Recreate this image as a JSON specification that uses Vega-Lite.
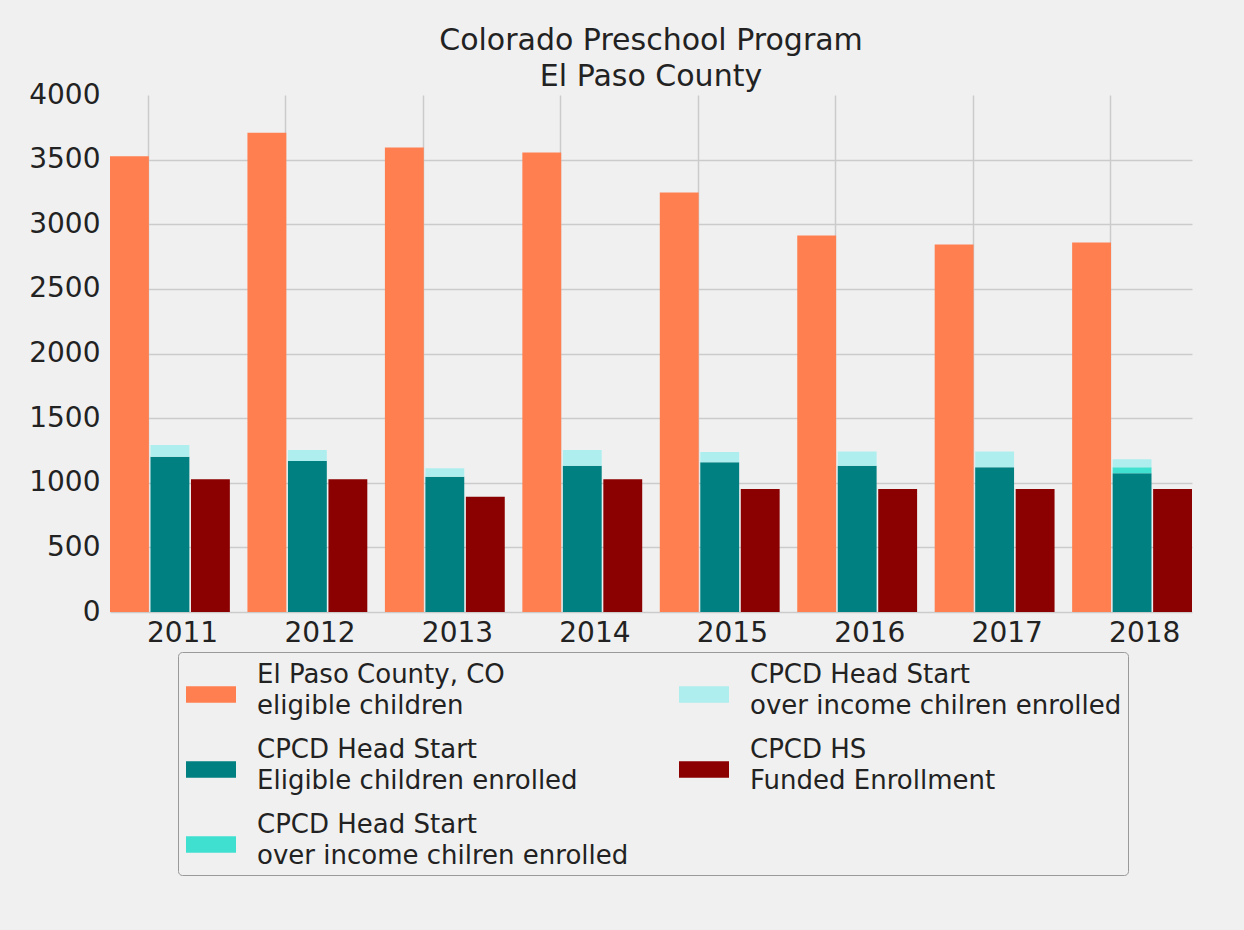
{
  "$schema": "https://vega.github.io/schema/vega-lite/v6.json",
  "autosize": {"type": "none"},
  "width": 1082,
  "height": 517,
  "padding": {"left": 110, "top": 95, "right": 52, "bottom": 318},
  "background": "#f0f0f0",
  "title": {
    "text": ["Colorado Preschool Program", "El Paso County"],
    "font": "DejaVu Sans",
    "fontSize": 30,
    "fontWeight": "normal",
    "color": "#222222",
    "lineHeight": 36,
    "anchor": "middle",
    "frame": "group",
    "baseline": "bottom",
    "offset": -41
  },
  "data": {
    "values": [
      {"year": "2011", "series": "county", "group": "1", "value": 3527},
      {"year": "2011", "series": "eligible", "group": "2", "value": 1202},
      {"year": "2011", "series": "over2", "group": "2", "value": 91},
      {"year": "2011", "series": "funded", "group": "3", "value": 1027},
      {"year": "2012", "series": "county", "group": "1", "value": 3708},
      {"year": "2012", "series": "eligible", "group": "2", "value": 1169},
      {"year": "2012", "series": "over2", "group": "2", "value": 85},
      {"year": "2012", "series": "funded", "group": "3", "value": 1027},
      {"year": "2013", "series": "county", "group": "1", "value": 3594},
      {"year": "2013", "series": "eligible", "group": "2", "value": 1047},
      {"year": "2013", "series": "over2", "group": "2", "value": 65},
      {"year": "2013", "series": "funded", "group": "3", "value": 892},
      {"year": "2014", "series": "county", "group": "1", "value": 3555},
      {"year": "2014", "series": "eligible", "group": "2", "value": 1132},
      {"year": "2014", "series": "over2", "group": "2", "value": 122},
      {"year": "2014", "series": "funded", "group": "3", "value": 1027},
      {"year": "2015", "series": "county", "group": "1", "value": 3246},
      {"year": "2015", "series": "eligible", "group": "2", "value": 1159},
      {"year": "2015", "series": "over2", "group": "2", "value": 79},
      {"year": "2015", "series": "funded", "group": "3", "value": 952},
      {"year": "2016", "series": "county", "group": "1", "value": 2912},
      {"year": "2016", "series": "eligible", "group": "2", "value": 1132},
      {"year": "2016", "series": "over2", "group": "2", "value": 109},
      {"year": "2016", "series": "funded", "group": "3", "value": 952},
      {"year": "2017", "series": "county", "group": "1", "value": 2843},
      {"year": "2017", "series": "eligible", "group": "2", "value": 1120},
      {"year": "2017", "series": "over2", "group": "2", "value": 121},
      {"year": "2017", "series": "funded", "group": "3", "value": 952},
      {"year": "2018", "series": "county", "group": "1", "value": 2858},
      {"year": "2018", "series": "eligible", "group": "2", "value": 1073},
      {"year": "2018", "series": "over1", "group": "2", "value": 47},
      {"year": "2018", "series": "over2", "group": "2", "value": 62},
      {"year": "2018", "series": "funded", "group": "3", "value": 952}
    ]
  },
  "encoding": {
    "x": {
      "field": "year",
      "type": "ordinal",
      "scale": {"paddingInner": 0.128, "paddingOuter": 0},
      "axis": {
        "title": null,
        "labelAngle": 0,
        "labelAlign": "left",
        "labelBaseline": "top",
        "labelOffset": -23,
        "labelPadding": 7,
        "bandPosition": 0.32,
        "grid": true,
        "ticks": false,
        "domain": false
      }
    },
    "xOffset": {
      "field": "group",
      "type": "nominal",
      "scale": {"paddingInner": 0.04, "paddingOuter": 0}
    },
    "y": {
      "field": "value",
      "type": "quantitative",
      "scale": {"domain": [0, 4000], "nice": false},
      "axis": {
        "title": null,
        "format": "d",
        "values": [0, 500, 1000, 1500, 2000, 2500, 3000, 3500, 4000],
        "grid": true,
        "gridColor": {"condition": {"test": "datum.value >= 4000", "value": "transparent"}, "value": "#cbcbcb"},
        "ticks": false,
        "domain": false,
        "labelPadding": 10
      }
    },
    "color": {
      "field": "series",
      "type": "nominal",
      "scale": {
        "domain": ["county", "eligible", "over1", "over2", "funded"],
        "range": ["#FF7F50", "#008080", "#40E0D0", "#AFEEEE", "#8B0000"]
      },
      "legend": {
        "title": null,
        "orient": "none",
        "legendX": 68,
        "legendY": 557,
        "columns": 2,
        "labelExpr": "datum.value == 'county' ? ['El Paso County, CO', 'eligible children'] : datum.value == 'eligible' ? ['CPCD Head Start', 'Eligible children enrolled'] : datum.value == 'funded' ? ['CPCD HS', 'Funded Enrollment'] : ['CPCD Head Start', 'over income chilren enrolled']"
      }
    }
  },
  "layer": [
    {
      "transform": [{"filter": "datum.group != '2'"}],
      "mark": {"type": "bar", "strokeWidth": 0},
      "encoding": {"y": {"field": "value", "type": "quantitative", "stack": null}}
    },
    {
      "transform": [{"filter": "datum.group == '2'"}],
      "mark": {"type": "bar", "strokeWidth": 0},
      "encoding": {"order": {"field": "series", "sort": "ascending"}}
    }
  ],
  "config": {
    "font": "DejaVu Sans",
    "view": {"stroke": null},
    "axis": {
      "labelFont": "DejaVu Sans",
      "labelFontSize": 28,
      "labelColor": "#222222",
      "gridColor": "#cbcbcb",
      "gridWidth": 1.5
    },
    "legend": {
      "labelFont": "DejaVu Sans",
      "labelFontSize": 26,
      "labelColor": "#222222",
      "labelLimit": 600,
      "labelOffset": 29,
      "symbolType": "M-1.5,0.67H1.5V1.67H-1.5Z",
      "symbolSize": 1111,
      "symbolOffset": 10,
      "symbolStrokeWidth": 0,
      "symbolOpacity": 1,
      "columnPadding": 48,
      "rowPadding": 14,
      "padding": 6,
      "strokeColor": "#9a9a9a",
      "fillColor": "#f0f0f0",
      "cornerRadius": 4
    },
    "style": {"guide-label": {"lineHeight": 31}}
  }
}
